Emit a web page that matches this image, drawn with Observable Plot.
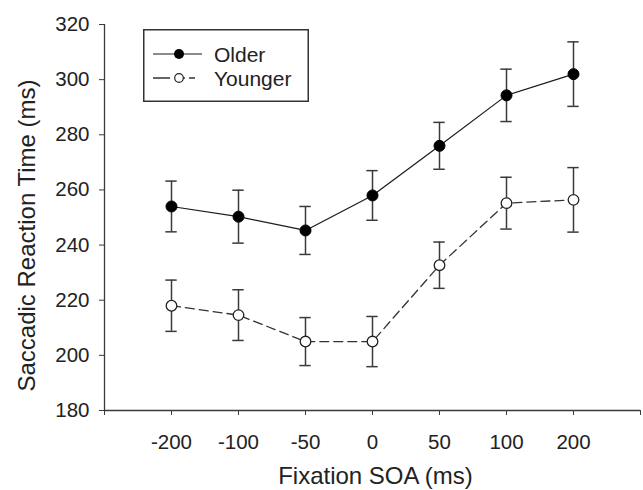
<!DOCTYPE html>
<html>
<head>
<meta charset="utf-8">
<script src="https://cdn.jsdelivr.net/npm/d3@7"></script>
<script src="https://cdn.jsdelivr.net/npm/@observablehq/plot@0.6"></script>
<style>
  html, body { margin: 0; padding: 0; background: #fff; }
  #wrap { position: relative; width: 643px; height: 490px; }
  #legend { position: absolute; left: 143px; top: 29px; }
</style>
</head>
<body>
<div id="wrap"></div>
<script>
const soa = ["-200", "-100", "-50", "0", "50", "100", "200"];
const olderMean = [254, 250.3, 245.3, 258, 276, 294.3, 302];
const olderSE = [9.2, 9.6, 8.7, 9, 8.5, 9.5, 11.7];
const youngerMean = [218, 214.6, 205, 205, 232.7, 255.2, 256.4];
const youngerSE = [9.3, 9.2, 8.7, 9.1, 8.4, 9.4, 11.7];
const yTicks = [180, 200, 220, 240, 260, 280, 300, 320];
const seriesNames = ["Older", "Younger"];

const older = soa.map((s, i) => ({pos: i + 1, mean: olderMean[i], se: olderSE[i]}));
const younger = soa.map((s, i) => ({pos: i + 1, mean: youngerMean[i], se: youngerSE[i]}));
const all = older.concat(younger);

const font = "'Liberation Sans', Arial, Helvetica, sans-serif";
const ink = "#1a1a1a";
const axisInk = "#3a3a3a";
const cap = 0.085;

const chart = Plot.plot({
  width: 643,
  height: 490,
  marginLeft: 104,
  marginRight: 3,
  marginTop: 24,
  marginBottom: 80,
  style: {fontFamily: font, fontSize: "20px", color: "#222", background: "#fff"},
  x: {domain: [0, soa.length + 1]},
  y: {domain: [180, 320]},
  marks: [
    Plot.axisY({ticks: yTicks, tickSize: 5, tickPadding: 10, label: null, stroke: axisInk, fontSize: 20.5}),
    Plot.axisX({ticks: d3.range(0, soa.length + 2), tickSize: 5, tickPadding: 19, label: null, stroke: axisInk, fontSize: 20.5,
      tickFormat: d => soa[d - 1] ?? ""}),
    Plot.ruleX([0], {stroke: axisInk, strokeWidth: 1.3}),
    Plot.ruleY([180], {stroke: axisInk, strokeWidth: 1.3}),
    // error bars
    Plot.ruleX(all, {x: "pos", y1: d => d.mean - d.se, y2: d => d.mean + d.se, stroke: axisInk, strokeWidth: 1.5}),
    Plot.ruleY(all, {y: d => d.mean - d.se, x1: d => d.pos - cap, x2: d => d.pos + cap, stroke: axisInk, strokeWidth: 1.5}),
    Plot.ruleY(all, {y: d => d.mean + d.se, x1: d => d.pos - cap, x2: d => d.pos + cap, stroke: axisInk, strokeWidth: 1.5}),
    // lines
    Plot.line(older, {x: "pos", y: "mean", stroke: ink, strokeWidth: 1.2}),
    Plot.line(younger, {x: "pos", y: "mean", stroke: "#333", strokeWidth: 1.3, strokeDasharray: "9,5"}),
    // points
    Plot.dot(older, {x: "pos", y: "mean", r: 5.5, fill: "#000", stroke: "#000", strokeWidth: 1}),
    Plot.dot(younger, {x: "pos", y: "mean", r: 5.3, fill: "#fff", stroke: "#222", strokeWidth: 1.3}),
    // axis titles
    Plot.text(["Fixation SOA (ms)"], {frameAnchor: "bottom", dy: 66, dx: 3, fontSize: 24, fill: "#222", lineAnchor: "middle", textAnchor: "middle"}),
    Plot.text(["Saccadic Reaction Time (ms)"], {frameAnchor: "left", dx: -77, dy: 18, rotate: -90, fontSize: 24, fill: "#222", lineAnchor: "middle", textAnchor: "middle"})
  ]
});

const wrap = document.getElementById("wrap");
wrap.appendChild(chart);

// Legend box
const lg = d3.create("svg").attr("id", "legend").attr("width", 166).attr("height", 73)
  .style("font-family", font);
lg.append("rect").attr("x", 0.75).attr("y", 0.75).attr("width", 164.5).attr("height", 71.5)
  .attr("fill", "#fff").attr("stroke", "#333").attr("stroke-width", 1.5);
seriesNames.forEach((name, i) => {
  const y = 25 + i * 24;
  const g = lg.append("g");
  if (i === 0) {
    g.append("line").attr("x1", 10).attr("x2", 59).attr("y1", y).attr("y2", y).attr("stroke", ink).attr("stroke-width", 1.2);
    g.append("circle").attr("cx", 36).attr("cy", y).attr("r", 5).attr("fill", "#000");
  } else {
    g.append("line").attr("x1", 10).attr("x2", 59).attr("y1", y).attr("y2", y).attr("stroke", "#333").attr("stroke-width", 1.3)
      .attr("stroke-dasharray", "17,9,6,4,6");
    g.append("circle").attr("cx", 36).attr("cy", y).attr("r", 4.3).attr("fill", "#fff").attr("stroke", "#222").attr("stroke-width", 1.2);
  }
  g.append("text").attr("x", 71).attr("y", y).attr("dy", "0.36em").attr("font-size", 21).attr("fill", "#222").text(name);
});
wrap.appendChild(lg.node());
</script>
</body>
</html>
